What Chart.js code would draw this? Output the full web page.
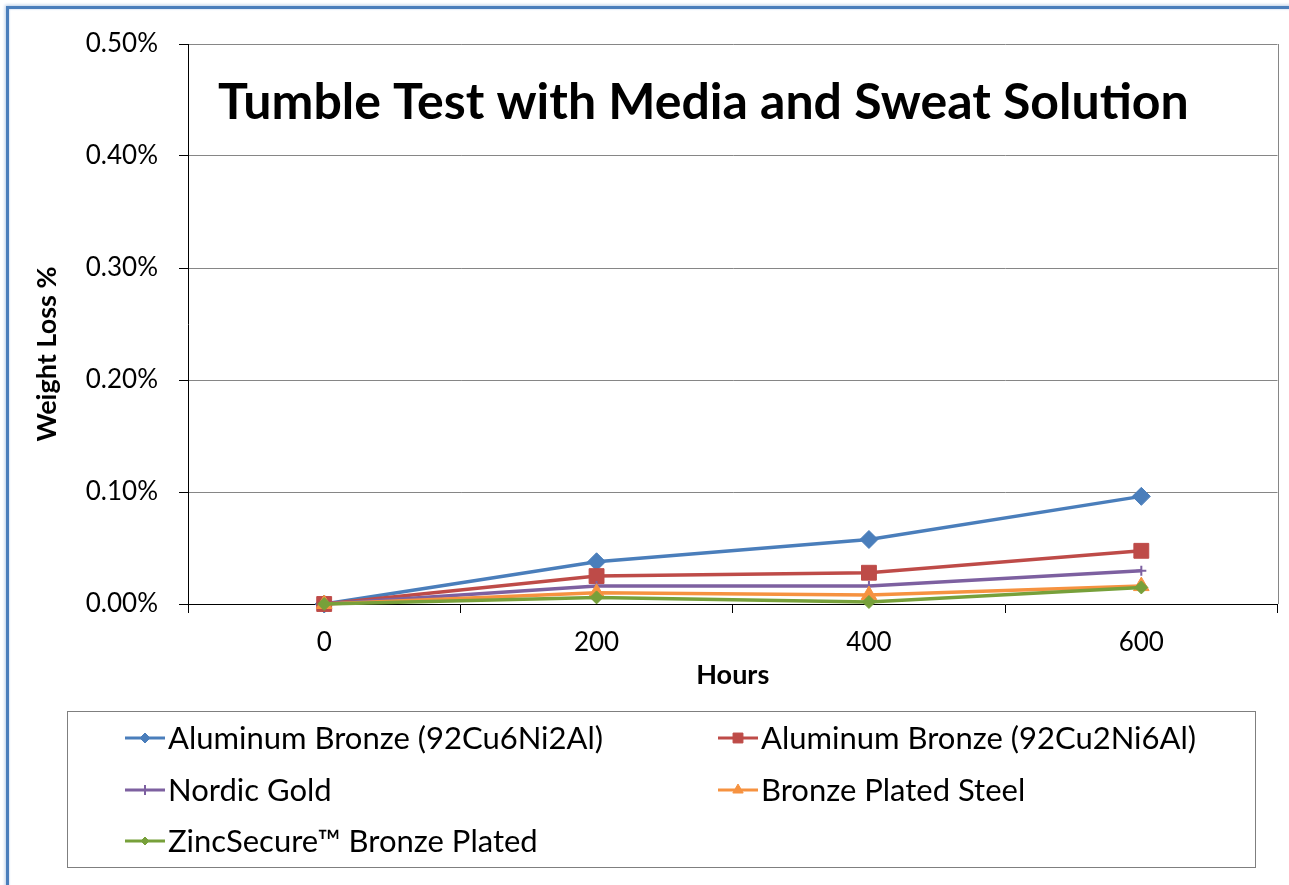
<!DOCTYPE html>
<html>
<head>
<meta charset="utf-8">
<script src="https://cdn.jsdelivr.net/npm/chart.js@4.4.1/dist/chart.umd.min.js"></script>
<style>
html,body{margin:0;padding:0;background:#fff;overflow:hidden;}
#wrap{position:relative;width:1289px;height:885px;overflow:hidden;}
#c{position:absolute;left:0;top:0;}
#frame{position:absolute;left:6px;top:6px;width:1320px;height:920px;border:3px solid #4A7EBB;box-shadow:0 0 3px 1px #b9cde6, inset 0 0 2px #9fbbe0;pointer-events:none;}
</style>
</head>
<body>
<div id="wrap">
<canvas id="c" width="1289" height="885"></canvas>
<div id="frame"></div>
</div>
<script>
// ---- data ----
const hours = ['0', '200', '400', '600'];
const seriesNames = [
  'Aluminum Bronze (92Cu6Ni2Al)',
  'Aluminum Bronze (92Cu2Ni6Al)',
  'Nordic Gold',
  'Bronze Plated Steel',
  'ZincSecure\u2122 Bronze Plated'
];
// weight loss in percent
const alBronze6Ni2Al = [0, 0.0377, 0.0576, 0.0961];
const alBronze2Ni6Al = [0, 0.0249, 0.0279, 0.0475];
const nordicGold = [0, 0.0160, 0.0160, 0.0297];
const bronzePlatedSteel = [0, 0.0101, 0.0080, 0.0160];
const zincSecure = [0, 0.0059, 0.0018, 0.0148];
const yTickValues = [0, 0.1, 0.2, 0.3, 0.4, 0.5];
const chartTitle = 'Tumble Test with Media and Sweat Solution';
const xTitle = 'Hours';
const yTitle = 'Weight Loss %';

// ---- styles ----
const FONT = 'Lato';
const styles = [
  {color: '#4A7EBB', pointStyle: 'rectRot', radius: 9, legendRadius: 5},
  {color: '#BE4B48', pointStyle: 'rect', radius: 10.5, legendRadius: 7},
  {color: '#7D60A0', pointStyle: 'cross', radius: 5, legendRadius: 5},
  {color: '#F69240', pointStyle: 'triangle', radius: 9, legendRadius: 6},
  {color: '#77A03A', pointStyle: 'rectRot', radius: 6.5, legendRadius: 4}
];
const seriesValues = [alBronze6Ni2Al, alBronze2Ni6Al, nordicGold, bronzePlatedSteel, zincSecure];

const datasets = seriesValues.map((vals, i) => ({
  label: seriesNames[i],
  data: vals,
  borderColor: styles[i].color,
  backgroundColor: styles[i].color,
  pointBackgroundColor: styles[i].color,
  pointBorderColor: styles[i].color,
  pointStyle: styles[i].pointStyle,
  pointRadius: styles[i].radius,
  pointBorderWidth: i === 2 ? 2 : 1,
  borderWidth: 3.5,
  tension: 0,
  fill: false,
  clip: false,
  order: seriesValues.length - 1 - i
}));

const overlayPlugin = {
  id: 'overlay',
  beforeDatasetsDraw(chart) {
    const ctx = chart.ctx, a = chart.chartArea;
    ctx.save();
    ctx.strokeStyle = '#868686';
    ctx.lineWidth = 1;
    ctx.beginPath();
    ctx.moveTo(Math.round(a.right) + 0.5, a.top);
    ctx.lineTo(Math.round(a.right) + 0.5, a.bottom);
    ctx.stroke();
    ctx.restore();
  },
  afterDraw(chart) {
    const ctx = chart.ctx, a = chart.chartArea;
    ctx.save();
    // chart title inside plot area
    ctx.fillStyle = '#000';
    ctx.font = `bold 50px ${FONT}`;
    ctx.textAlign = 'left';
    ctx.textBaseline = 'alphabetic';
    ctx.fillText(chartTitle, a.left + 30, a.top + 75);
    // y axis title
    ctx.save();
    ctx.translate(47, (a.top + a.bottom) / 2 + 30);
    ctx.rotate(-Math.PI / 2);
    ctx.font = `bold 27px ${FONT}`;
    ctx.textAlign = 'center';
    ctx.textBaseline = 'middle';
    ctx.fillText(yTitle, 0, 0);
    ctx.restore();
    // legend
    const L = {left: 67, top: 711, right: 1255, bottom: 867};
    ctx.strokeStyle = '#7f7f7f';
    ctx.lineWidth = 1;
    ctx.strokeRect(L.left + 0.5, L.top + 0.5, L.right - L.left, L.bottom - L.top);
    const cols = [125, 718];
    const rows = [738, 790, 841];
    ctx.font = `31px ${FONT}`;
    ctx.textAlign = 'left';
    ctx.textBaseline = 'middle';
    chart.data.datasets.forEach((ds, i) => {
      const cx = cols[i % 2], cy = rows[Math.floor(i / 2)];
      const st = styles[i];
      ctx.strokeStyle = st.color;
      ctx.lineWidth = 3;
      ctx.beginPath();
      ctx.moveTo(cx, cy);
      ctx.lineTo(cx + 40, cy);
      ctx.stroke();
      ctx.fillStyle = st.color;
      ctx.lineWidth = i === 2 ? 2 : 1;
      Chart.helpers.drawPoint(ctx, {pointStyle: st.pointStyle, radius: st.legendRadius, rotation: 0, borderWidth: 1}, cx + 20, cy);
      ctx.fillStyle = '#000';
      ctx.fillText(ds.label, cx + 43, cy + 1);
    });
    ctx.restore();
  }
};

new Chart(document.getElementById('c'), {
  type: 'line',
  data: {labels: hours, datasets},
  options: {
    responsive: false,
    animation: false,
    devicePixelRatio: 1,
    layout: {padding: {top: 44, right: 11, left: 0, bottom: 0}},
    plugins: {legend: {display: false}, title: {display: false}, tooltip: {enabled: false}},
    scales: {
      x: {
        type: 'category',
        offset: true,
        grid: {offset: true, drawOnChartArea: false, drawTicks: true, tickLength: 9, color: '#000', tickColor: '#000'},
        border: {display: true, color: '#000', width: 1},
        ticks: {color: '#000', font: {family: FONT, size: 26}, padding: 14, maxRotation: 0},
        title: {display: true, text: xTitle, color: '#000', font: {family: FONT, size: 27, weight: 'bold'}, padding: {top: 0, bottom: 194}},
        afterFit: s => { s.height = 281; }
      },
      y: {
        min: 0, max: 0.5,
        afterBuildTicks: s => { s.ticks = yTickValues.map(v => ({value: v})); },
        grid: {color: '#868686', tickColor: '#000', tickLength: 9, drawTicks: true},
        border: {display: true, color: '#000', width: 1},
        ticks: {color: '#000', font: {family: FONT, size: 26}, padding: 21, callback: v => v.toFixed(2) + '%'},
        afterFit: s => { s.width = 188; }
      }
    }
  },
  plugins: [overlayPlugin]
});
</script>
</body>
</html>
